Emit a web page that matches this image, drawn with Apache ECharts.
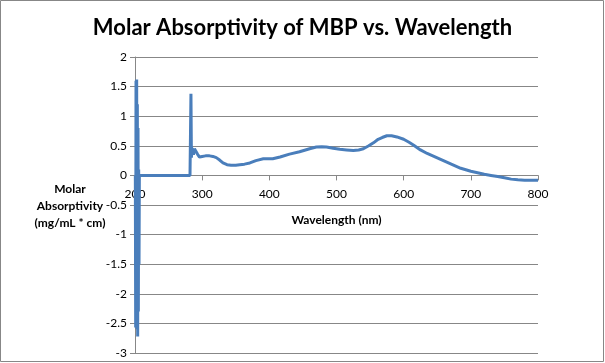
<!DOCTYPE html>
<html>
<head>
<meta charset="utf-8">
<script src="https://cdn.jsdelivr.net/npm/echarts@6/dist/echarts.min.js"></script>
<style>
html,body{margin:0;padding:0;background:#fff;}
#chart{width:605px;height:363px;}
</style>
</head>
<body>
<div id="chart"></div>
<script>
// Wavelength (nm)
const wavelengths = [200.5, 201, 201.5, 202, 202.5, 203, 203.5, 204, 204.5, 205, 205.5, 206, 206.5, 207,
  240, 281.9, 283.3, 284, 285, 287, 288.5, 291, 293, 296, 300, 305, 311, 316, 321, 326, 331, 337, 343, 350,
  356, 363, 371, 380, 391, 398, 405, 416, 430, 445, 460, 470, 478, 485, 495, 505, 515, 525, 533, 540, 548,
  555, 562, 568, 575, 582, 590, 600, 608, 615, 625, 635, 645, 655, 665, 675, 685, 700, 710, 720, 730, 740,
  750, 760, 770, 780, 790, 800];
// Molar absorptivity values
const absorptivity = [0, -2.57, 1.6, -2.5, 1.62, -2.6, 1.2, -2.72, 0.8, -2.3, 0.1, -1.5, 0, 0,
  0, 0, 1.38, 0.3, 0.46, 0.35, 0.45, 0.42, 0.36, 0.31, 0.32, 0.33, 0.33, 0.32, 0.30, 0.26, 0.21, 0.18, 0.17, 0.17,
  0.18, 0.19, 0.21, 0.25, 0.28, 0.28, 0.28, 0.31, 0.36, 0.40, 0.45, 0.48, 0.485, 0.48, 0.46, 0.44, 0.43, 0.42, 0.43, 0.45, 0.50,
  0.55, 0.61, 0.64, 0.67, 0.67, 0.65, 0.61, 0.56, 0.51, 0.43, 0.37, 0.32, 0.27, 0.22, 0.17, 0.12, 0.07, 0.045, 0.02, 0.0, -0.02,
  -0.04, -0.063, -0.075, -0.08, -0.08, -0.08];
const xTicks = [200, 300, 400, 500, 600, 700, 800];
const yTicks = [-3, -2.5, -2, -1.5, -1, -0.5, 0, 0.5, 1, 1.5, 2];

const gridTop = 57, gridBottom = 10, chartH = 363;
const plotH = chartH - gridTop - gridBottom;
const yMin = yTicks[0], yMax = yTicks[yTicks.length - 1];
const zeroFromBottom = plotH * (0 - yMin) / (yMax - yMin);

const chart = echarts.init(document.getElementById('chart'));
const font = 'Lato, "Open Sans", sans-serif';
chart.setOption({
  animation: false,
  title: {
    text: 'Molar Absorptivity of MBP vs. Wavelength',
    left: 'center', top: 12,
    textStyle: { fontFamily: font, fontSize: 22, fontWeight: 'bold', color: '#000' }
  },
  graphic: [
    { type: 'rect', shape: { x: 0.5, y: 0.5, width: 603, height: 361 },
      style: { fill: 'none', stroke: '#878787', lineWidth: 1 }, silent: true },
    { type: 'text', left: 70 - 40, top: 181,
      style: { text: 'Molar\nAbsorptivity\n(mg/mL * cm)', textAlign: 'center', x: 40, width: 80,
        font: 'bold 12px ' + font, lineHeight: 17, fill: '#000', align: 'center' } }
  ],
  grid: { left: 135, right: 67, top: gridTop, bottom: gridBottom, outerBoundsMode: 'none', containLabel: false },
  xAxis: {
    type: 'value', min: xTicks[0], max: xTicks[xTicks.length - 1], interval: 100,
    position: 'bottom', offset: -zeroFromBottom,
    name: 'Wavelength (nm)', nameLocation: 'middle', nameGap: 39,
    nameTextStyle: { fontFamily: font, fontSize: 12, fontWeight: 'bold', color: '#000' },
    axisLine: { onZero: false, lineStyle: { color: '#878787', width: 1 } },
    axisTick: { show: true, length: 5, lineStyle: { color: '#878787' } },
    axisLabel: { fontFamily: font, fontSize: 12, color: '#000', margin: 13 },
    splitLine: { show: false }
  },
  yAxis: {
    type: 'value', min: yMin, max: yMax, interval: 0.5,
    axisLine: { show: true, onZero: false, lineStyle: { color: '#878787', width: 1 } },
    axisTick: { show: true, length: 5, lineStyle: { color: '#878787' } },
    axisLabel: { fontFamily: font, fontSize: 12, color: '#000', margin: 8 },
    splitLine: { show: true, lineStyle: { color: '#878787', width: 1 } }
  },
  series: [{
    type: 'line',
    data: wavelengths.map((w, i) => [w, absorptivity[i]]),
    showSymbol: false, symbol: 'none',
    lineStyle: { color: '#4a7ebb', width: 3 },
    smooth: false
  }]
});
</script>
</body>
</html>
